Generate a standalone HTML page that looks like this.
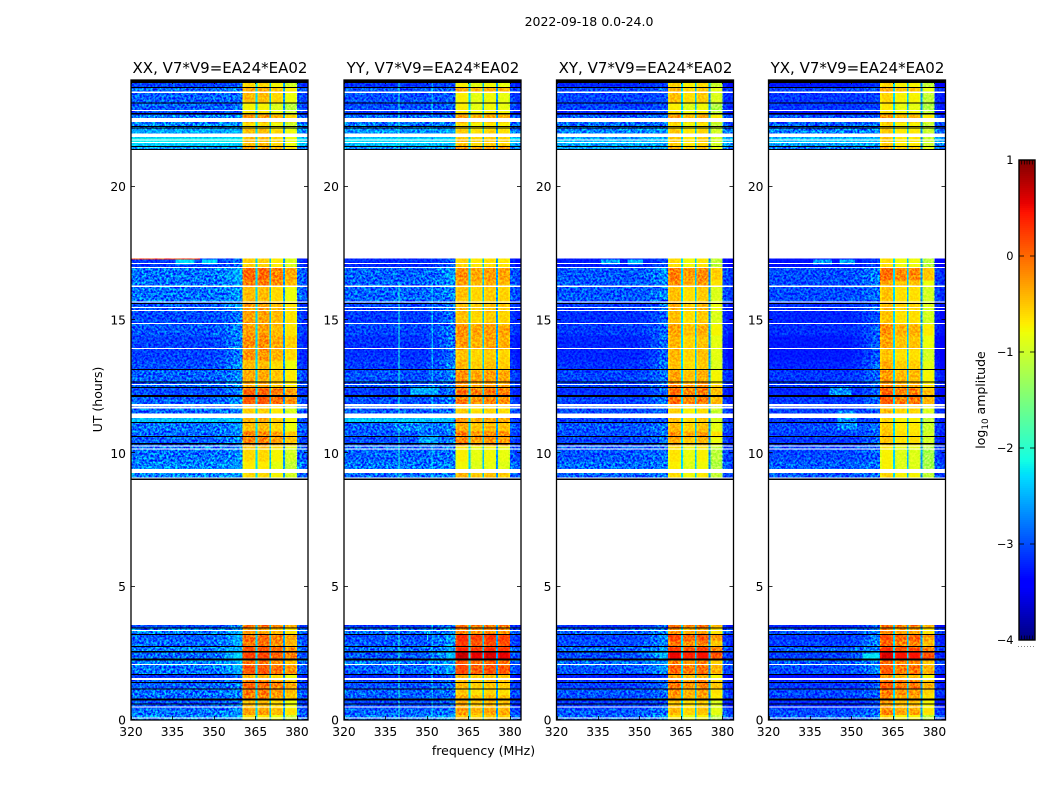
<!DOCTYPE html>
<html lang="en">
<head>
<meta charset="utf-8">
<title>2022-09-18 0.0-24.0</title>
<style>
html,body{margin:0;padding:0;background:#fff;width:1050px;height:800px;overflow:hidden}
svg{display:block}
text{font-family:"DejaVu Sans","Liberation Sans",sans-serif;fill:#000}
.tick{font-size:12.3px}
.title{font-size:15px}
.cb{font-size:11.4px}
.noise{mix-blend-mode:overlay}
</style>
</head>
<body>
<svg id="chart" xmlns="http://www.w3.org/2000/svg" width="1050" height="800" viewBox="0 0 1050 800">
  <defs>
    <filter id="grain" x="0" y="0" width="1" height="1" color-interpolation-filters="sRGB">
      <feTurbulence type="fractalNoise" baseFrequency="0.45" numOctaves="2" seed="7"/>
      <feColorMatrix type="matrix" values="1 0 0 0 0  1 0 0 0 0  1 0 0 0 0  0 0 0 0 1"/>
      <feComponentTransfer>
        <feFuncR type="linear" slope="2.4" intercept="-0.72"/>
        <feFuncG type="linear" slope="2.4" intercept="-0.72"/>
        <feFuncB type="linear" slope="2.4" intercept="-0.72"/>
      </feComponentTransfer>
    </filter>
  </defs>
  <rect x="0" y="0" width="1050" height="800" fill="#fff"/>
  <text x="589" y="26" text-anchor="middle" font-size="12.5">2022-09-18 0.0-24.0</text>
  <text x="483.5" y="755" text-anchor="middle" font-size="12.5">frequency (MHz)</text>
  <text x="0" y="0" text-anchor="middle" font-size="12.5" transform="translate(102,399.5) rotate(-90)">UT (hours)</text>
  <text x="0" y="0" text-anchor="middle" font-size="12.5" transform="translate(985,400) rotate(-90)">log<tspan font-size="8.8" dy="3">10</tspan><tspan dy="-3"> amplitude</tspan></text>
  <g id="panels"></g>
  <g id="colorbar"></g>
</svg>
<script>
// ---- chart data ----
const panelNames = ['XX', 'YY', 'XY', 'YX'];
const baselineLabel = 'V7*V9=EA24*EA02';
const xTicks = [320, 335, 350, 365, 380];
const yTicks = [0, 5, 10, 15, 20];
const colorbarTicks = [-4, -3, -2, -1, 0, 1];

// UT boundaries of the time rows (hours)
const rowEdges = [0,.2,.45,.75,.95,1.17,1.5,1.7,2.06,2.28,2.55,2.74,3.0,3.22,3.45,3.56,
  9.04,9.41,9.7,10.16,10.31,10.61,10.84,11.14,11.49,11.85,12.15,12.45,12.64,13.12,13.5,13.9,14.44,14.85,15.34,15.67,16.28,16.5,16.99,17.31,
  21.38,21.53,21.68,21.85,22.18,22.43,22.7,22.84,23.13,23.54,23.74,23.9,24];

// log10 amplitude of the quiet part of the band, per row
const backgroundLevel = [-2.7,-2.8,-2.95,-2.85,-2.8,-2.9,-3.1,-2.8,-2.7,-2.85,-2.7,-2.85,-2.9,-2.75,-3.0,null,
  -2.75,-2.7,-2.8,-2.8,-2.9,-2.85,-2.8,-2.9,-2.85,-2.9,-3.0,-2.9,-2.9,-3.0,-3.05,-3.05,-2.95,-3.0,-2.95,-2.8,-2.8,-2.8,-3.1,null,
  -2.6,-2.35,-2.2,-2.55,-2.7,-2.75,-3.05,-2.9,-2.9,-2.85,-3.05,-3.05];
// rise of the background approaching the strong band, per row
const edgeRise = [.35,.3,.3,.2,.2,.3,.3,.55,.4,.95,.4,.55,.7,.3,.5,null,
  .3,.15,.2,.2,.4,.3,.3,.1,.2,.4,.5,.35,.4,.6,.5,.6,.4,.4,.5,.3,.4,.5,.4,null,
  .1,0,0,.1,.1,.1,.2,.1,.1,.2,.2,.2];

// log10 amplitude of the 360-380 MHz strong band, per row, per polarisation
const xxLevel = [-.7,-.35,-.5,-.2,-.15,-.05,-.5,.05,-.15,.15,.1,-.1,-.05,-.35,-.1,null,
  -.65,-.75,-.65,-.55,-.2,-.2,-.5,-.45,-.6,.05,0,-.4,-.4,-.5,-.3,-.25,-.35,-.35,-.35,-.5,-.15,-.05,-.6,null,
  -.35,-.5,-.5,-.5,-.7,-.3,-.7,-.8,-.5,-.4,-.65,-.65];
const yyLevel = [-.55,-.35,-.45,-.45,-.6,-.5,-.5,.1,0,.6,.3,.15,.25,-.2,-.1,null,
  -.5,-.85,-.8,-.75,-.25,-.2,-.45,-.35,-.6,-.2,-.1,-.3,-.3,-.5,-.55,-.35,-.3,-.55,-.5,-.55,-.4,-.3,-.65,null,
  -.3,-.55,-.55,-.6,-.7,-.35,-.7,-.8,-.8,-.4,-.8,-.8];
const xyLevel = [-.75,-.5,-.55,-.35,-.3,-.15,-.4,-.05,-.2,.45,.2,-.15,.1,-.3,-.1,null,
  -.7,-.8,-.75,-.7,-.45,-.3,-.5,-.55,-.65,-.1,-.1,-.2,-.4,-.55,-.5,-.5,-.4,-.55,-.45,-.55,-.3,-.2,-.7,null,
  -.5,-.6,-.6,-.6,-.7,-.35,-.7,-.8,-.55,-.5,-.65,-.65];
const yxLevel = [-.7,-.3,-.4,-.3,-.2,-.05,-.4,-.05,-.1,.5,.2,-.1,.05,-.3,-.1,null,
  -.7,-.85,-.85,-.8,-.6,-.6,-.65,-.7,-.55,-.05,-.1,-.3,-.4,-.5,-.6,-.45,-.35,-.6,-.55,-.6,-.45,-.15,-.75,null,
  -.5,-.65,-.65,-.65,-.7,-.35,-.7,-.8,-.7,-.45,-.7,-.7];
const panelLevels = [xxLevel, yyLevel, xyLevel, yxLevel];

// per-polarisation offsets
const backgroundOffset = [0, -.08, -.14, -.2];
const xxSubband = [.05, .05, -.1, -.3];
const yySubband = [.08, -.04, .02, -.03];
const xySubband = [.08, -.08, .02, -.35];
const yxSubband = [.12, -.04, -.04, -.35];
const subbandOffset = [xxSubband, yySubband, xySubband, yxSubband];
const gapLevel = [-2.3, -2.4, -2.6];

// frequency columns (MHz) and how each column reads the row values
const colEdges = [320,350,354,357,360.4,361,364.4,365,365.7,366.2,369.5,370,370.7,371.2,374.5,375,375.7,376.2,379.5,380,382,384];
const colRole = ['bg','bg','bg','bg',0,0,0,'gap',1,1,1,'gap',2,2,2,'gap',3,3,3,'bg','bg'];
const colRise = [0,.1,.3,.55,0,0,0,0,0,0,0,0,0,0,0,0,0,0,0,0,0];
const colOffset = [0,0,0,0,-.14,0,-.08,0,-.14,0,-.08,0,-.14,0,-.08,0,-.14,0,-.12,-.05,-.15];

// flagged intervals, UT start / UT end / kind (w = blank, k = black)
const flagStart = [.07,.46,.58,.73,1.14,1.38,1.5,1.69,2.06,2.23,2.53,2.74,3.19,3.34,3.43,3.56,
  9.0,9.06,9.26,10.14,10.26,10.33,10.61,11.14,11.33,11.68,11.76,12.11,12.45,12.56,12.66,13.13,13.91,14.85,15.34,15.45,15.6,15.65,16.24,16.95,17.1,17.31,
  21.38,21.49,21.64,21.73,21.86,22.18,22.24,22.43,22.7,22.85,23.11,23.52,23.7,23.88];
const flagEnd = [.1,.5,.62,.81,1.18,1.42,1.57,1.72,2.1,2.31,2.59,2.78,3.22,3.37,3.47,9.0,
  9.06,9.09,9.41,10.18,10.3,10.38,10.65,11.18,11.49,11.74,11.85,12.19,12.49,12.6,12.7,13.16,13.95,14.89,15.38,15.49,15.64,15.69,16.3,16.99,17.13,21.38,
  21.41,21.53,21.68,21.77,21.99,22.21,22.28,22.58,22.76,22.88,23.15,23.56,23.74,24];
const flagKind = ['w','w','k','k','k','k','w','k','w','k','k','k','k','w','k','w',
  'k','w','w','w','w','k','k','k','w','w','w','k','k','w','k','k','w','w','w','w','k','w','w','w','w','w',
  'k','k','w','w','w','k','k','w','k','w','k','w','k','k'];

// narrow interference features: panel, UT start, UT end, MHz start, MHz end, log10 amplitude
const featurePanel = [0,0,0,2,2,3,3, 1,1,1,1,1,1,1,1, 0,1, 1,1,1, 3,3, 2,2, 3,3];
const featureUt0 = [17.27,17.08,17.08,17.08,17.08,17.08,17.08, 0,9.04,21.38,0,9.04,21.38,10.31,12.2, 11.14,11.14, 10.84,3.0,3.0, 12.15,10.9, 21.7,21.4, 2.4,2.3];
const featureUt1 = [17.31,17.27,17.27,17.27,17.27,17.27,17.27, 3.56,16.4,24,3.56,16.4,24,10.7,12.5, 11.49,11.49, 11.14,3.3,3.3, 12.5,11.6, 21.85,21.6, 2.5,2.45];
const featureF0 = [320,336,345.6,336,345.6,336,345.6, 339.7,339.7,339.7,351.7,351.7,351.7,347,344, 320,320, 338,335,350, 342,345, 320,320, 354,354];
const featureF1 = [345,343,351.3,343,351.3,343,351.3, 340.1,340.1,340.1,352.1,352.1,352.1,354,354, 360,360, 350,335.4,350.4, 350,352, 360,360, 360,360];
const featureLevel = [.25,-2.3,-2.3,-2.55,-2.45,-2.55,-2.55, -2.1,-2.1,-2.1,-2.5,-2.5,-2.5,-2.55,-2.5, -2.4,-2.4, -2.7,-2.1,-2.1, -2.65,-2.65, -2.5,-2.55, -2.25,-2.25];

// ---- layout and scales ----
const SVG_NS = 'http://www.w3.org/2000/svg';
const panelLeft = [131, 344, 556.5, 768.5];
const panelWidth = 177;
const axisTop = 80, axisBottom = 720;
const xMin = 320, xMax = 384, yMin = 0, yMax = 24;
const cbTop = 160, cbBottom = 640, cbLeft = 1019, cbRight = 1035, cbMin = -4, cbMax = 1;
const quietRanges = [[320, 360.4, 1], [360.4, 380, .55], [380, 384, 1]];

function xScale(f, p) { return panelLeft[p] + (f - xMin) / (xMax - xMin) * panelWidth; }
function yScale(t) { return axisBottom - (t - yMin) / (yMax - yMin) * (axisBottom - axisTop); }
function cbScale(v) { return cbBottom - (v - cbMin) / (cbMax - cbMin) * (cbBottom - cbTop); }
function clip01(v) { return Math.max(0, Math.min(1, v)); }
function jet(v) {
  v = clip01(v);
  const r = v < .35 ? 0 : v < .66 ? (v - .35) / .31 : v < .89 ? 1 : 1 - (v - .89) / .11 * .5;
  const g = v < .125 ? 0 : v < .375 ? (v - .125) / .25 : v < .64 ? 1 : v < .91 ? 1 - (v - .64) / .27 : 0;
  const b = v < .11 ? .5 + v / .11 * .5 : v < .34 ? 1 : v < .65 ? 1 - (v - .34) / .31 : 0;
  return 'rgb(' + Math.round(r * 255) + ',' + Math.round(g * 255) + ',' + Math.round(b * 255) + ')';
}
function amplitudeColor(level) { return jet((level - cbMin) / (cbMax - cbMin)); }
function make(tag, parent, attrs) {
  const el = document.createElementNS(SVG_NS, tag);
  for (const k in attrs) el.setAttribute(k, attrs[k]);
  parent.appendChild(el);
  return el;
}
function cellLevel(p, r, c) {
  const role = colRole[c];
  if (role === 'bg') return backgroundLevel[r] + backgroundOffset[p] + colRise[c] * edgeRise[r] + colOffset[c];
  if (role === 'gap') return gapLevel[(c - 7) / 4];
  return panelLevels[p][r] + subbandOffset[p][role] + colOffset[c];
}

// ---- panels ----
const panelsRoot = document.getElementById('panels');
panelNames.forEach(function (name, p) {
  const left = panelLeft[p];
  const g = make('g', panelsRoot, { style: 'isolation:isolate' });
  
  

  const title = make('text', g, { x: left + panelWidth / 2 + .5, y: 73, 'text-anchor': 'middle', class: 'title' });
  title.textContent = name + ', ' + baselineLabel;
  
  

  const plot = make('rect', g, { x: left, y: axisTop, width: panelWidth, height: axisBottom - axisTop, fill: '#fff' });
  
  

  const cells = make('g', g, { 'shape-rendering': 'crispEdges' });
  
  
  for (let r = 0; r < rowEdges.length - 1; r++) {
    if (backgroundLevel[r] === null) continue;
    for (let c = 0; c < colEdges.length - 1; c++) {
      const x0 = xScale(colEdges[c], p), x1 = xScale(colEdges[c + 1], p);
      const y1 = yScale(rowEdges[r]), y0 = yScale(rowEdges[r + 1]);
      const cell = make('rect', cells, { x: x0.toFixed(2), y: y0.toFixed(2), width: (x1 - x0 + .4).toFixed(2), height: (y1 - y0 + .4).toFixed(2), fill: amplitudeColor(cellLevel(p, r, c)) });
      
      
    }
  }
  featurePanel.forEach(function (fp, i) {
    if (fp !== p) return;
    const x0 = xScale(featureF0[i], p), x1 = xScale(featureF1[i], p);
    const y0 = yScale(featureUt1[i]), y1 = yScale(featureUt0[i]);
    const feature = make('rect', cells, { x: x0.toFixed(2), y: y0.toFixed(2), width: Math.max(1, x1 - x0).toFixed(2), height: Math.max(1, y1 - y0).toFixed(2), fill: amplitudeColor(featureLevel[i]) });
    
    
  });

  quietRanges.forEach(function (q) {
    const gx0 = xScale(q[0], p), gx1 = xScale(q[1], p);
    const grain = make('rect', g, { x: gx0.toFixed(2), y: axisTop, width: (gx1 - gx0).toFixed(2), height: axisBottom - axisTop, filter: 'url(#grain)', class: 'noise', opacity: q[2] });
    
    
  });

  const flags = make('g', g, { 'shape-rendering': 'crispEdges' });
  
  
  flagStart.forEach(function (t0, i) {
    const y0 = yScale(flagEnd[i]), y1 = yScale(t0);
    const flag = make('rect', flags, { x: left, y: y0.toFixed(2), width: panelWidth, height: Math.max(1, y1 - y0).toFixed(2), fill: flagKind[i] === 'k' ? '#000' : '#fff' });
    
    
  });

  const axes = make('g', g, {});
  
  
  xTicks.forEach(function (v) {
    const x = Math.round(xScale(v, p)) + .5;
    const tickB = make('line', axes, { x1: x, x2: x, y1: axisBottom, y2: axisBottom - 4, stroke: '#000', 'stroke-width': .8 });
    
    
    const tickT = make('line', axes, { x1: x, x2: x, y1: axisTop, y2: axisTop + 4, stroke: '#000', 'stroke-width': .8 });
    
    
    const lab = make('text', axes, { x: xScale(v, p), y: 736, 'text-anchor': 'middle', class: 'tick' });
    lab.textContent = String(v);
    
    
  });
  yTicks.forEach(function (v) {
    const y = Math.round(yScale(v)) - .5;
    const tickL = make('line', axes, { x1: left, x2: left + 4, y1: y, y2: y, stroke: '#000', 'stroke-width': .8 });
    
    
    const tickR = make('line', axes, { x1: left + panelWidth, x2: left + panelWidth - 4, y1: y, y2: y, stroke: '#000', 'stroke-width': .8 });
    
    
    const lab = make('text', axes, { x: left - 5, y: yScale(v) + 4.5, 'text-anchor': 'end', class: 'tick' });
    lab.textContent = String(v);
    
    
  });
  const frame = make('rect', axes, { x: left, y: axisTop, width: panelWidth, height: axisBottom - axisTop, fill: 'none', stroke: '#000', 'stroke-width': 1.3 });
  
  
});

// ---- colorbar ----
const cb = document.getElementById('colorbar');
const cbRamp = make('g', cb, { 'shape-rendering': 'crispEdges' });


for (let py = cbTop; py < cbBottom; py += 2) {
  const val = cbMax - (py + 1 - cbTop) / (cbBottom - cbTop) * (cbMax - cbMin);
  const seg = make('rect', cbRamp, { x: cbLeft, y: py, width: cbRight - cbLeft, height: 2.4, fill: amplitudeColor(val) });
  
  
}
colorbarTicks.forEach(function (v) {
  const y = cbScale(v);
  const label = make('text', cb, { x: 1013.5, y: y + 4, 'text-anchor': 'end', class: 'cb' });
  label.textContent = (v < 0 ? '\u2212' + (-v) : String(v));
  
  
  if (v === cbMin || v === cbMax) {
    const dir = v === cbMin ? -1 : 1;
    for (let i = 1; i < 6; i++) {
      const x = cbLeft + i * (cbRight - cbLeft) / 6;
      const minor = make('line', cb, { x1: x, x2: x, y1: y, y2: y + dir * 4.5, stroke: '#000', 'stroke-width': .7 });
      
      
    }
  } else {
    const l = make('line', cb, { x1: cbLeft, x2: cbLeft + 5, y1: y, y2: y, stroke: '#000', 'stroke-width': .8 });
    
    
    const rr = make('line', cb, { x1: cbRight, x2: cbRight - 5, y1: y, y2: y, stroke: '#000', 'stroke-width': .8 });
    
    
  }
});
const cbFrame = make('rect', cb, { x: cbLeft, y: cbTop, width: cbRight - cbLeft, height: cbBottom - cbTop, fill: 'none', stroke: '#000', 'stroke-width': 1.4 });


const cbDots = make('line', cb, { x1: 1018, x2: 1035, y1: 646.5, y2: 646.5, stroke: '#888', 'stroke-width': 1, 'stroke-dasharray': '1 2' });


</script>
</body>
</html>
